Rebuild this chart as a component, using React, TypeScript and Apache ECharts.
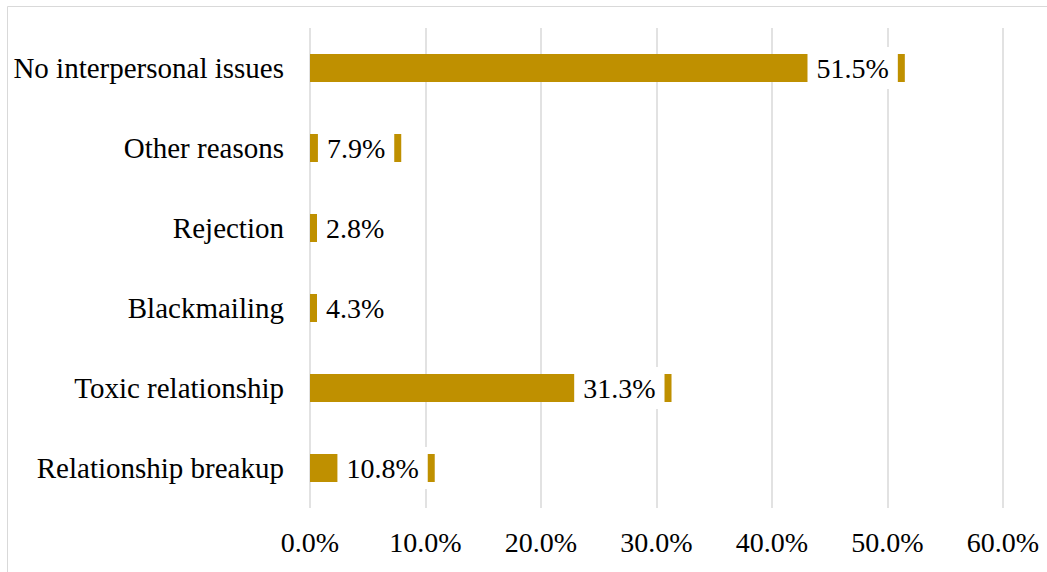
import React, { useEffect, useRef } from "react";
import * as echarts from "echarts";

const categories = [
  "No interpersonal issues",
  "Other reasons",
  "Rejection",
  "Blackmailing",
  "Toxic relationship",
  "Relationship breakup",
];
const values = [51.5, 7.9, 2.8, 4.3, 31.3, 10.8];
const smallLabelThreshold = 5;
const xTicks = { min: 0, max: 60, interval: 10 };

const FONT = "Liberation Serif";

export default function App() {
  const ref = useRef<HTMLDivElement>(null);
  useEffect(() => {
    if (!ref.current) return;
    const chart = echarts.init(ref.current, undefined, { renderer: "svg" });
    chart.setOption({
      animation: false,
      backgroundColor: "#fff",
      textStyle: { fontFamily: FONT },
      graphic: [
        {
          type: "rect",
          shape: { x: 7.5, y: 6.5, width: 1100, height: 600 },
          style: { fill: "none", stroke: "#d9d9d9", lineWidth: 1 },
          silent: true,
          z: -1,
        },
      ],
      grid: { left: 310, top: 28, width: 693, height: 480, containLabel: false },
      xAxis: {
        type: "value",
        min: xTicks.min,
        max: xTicks.max,
        interval: xTicks.interval,
        axisLine: { show: false },
        axisTick: { show: false },
        splitLine: { show: true, lineStyle: { color: "#d9d9d9", width: 1.5 } },
        axisLabel: {
          formatter: (v: number) => v.toFixed(1) + "%",
          fontSize: 28,
          fontFamily: FONT,
          color: "#000",
          margin: 20,
        },
      },
      yAxis: {
        type: "category",
        data: categories,
        inverse: true,
        axisLine: { show: false },
        axisTick: { show: false },
        axisLabel: {
          fontSize: 29,
          fontFamily: FONT,
          color: "#000",
          margin: 26,
        },
      },
      series: [
        {
          type: "bar",
          barWidth: 28,
          itemStyle: { color: "#BF9000" },
          data: values.map((v) => ({
            value: v,
            label: {
              show: true,
              position: v < smallLabelThreshold ? "insideLeft" : "insideRight",
              distance: 7,
              formatter: (p: any) => Number(p.value).toFixed(1) + "%",
              fontSize: 28,
              fontFamily: FONT,
              color: "#000",
              backgroundColor: "#fff",
              padding: [7, 9, 7, 9],
            },
          })),
        },
      ],
    });
    return () => chart.dispose();
  }, []);
  return (
    <div
      ref={ref}
      style={{ position: "absolute", left: 0, top: 0, width: 1047, height: 572 }}
    />
  );
}
